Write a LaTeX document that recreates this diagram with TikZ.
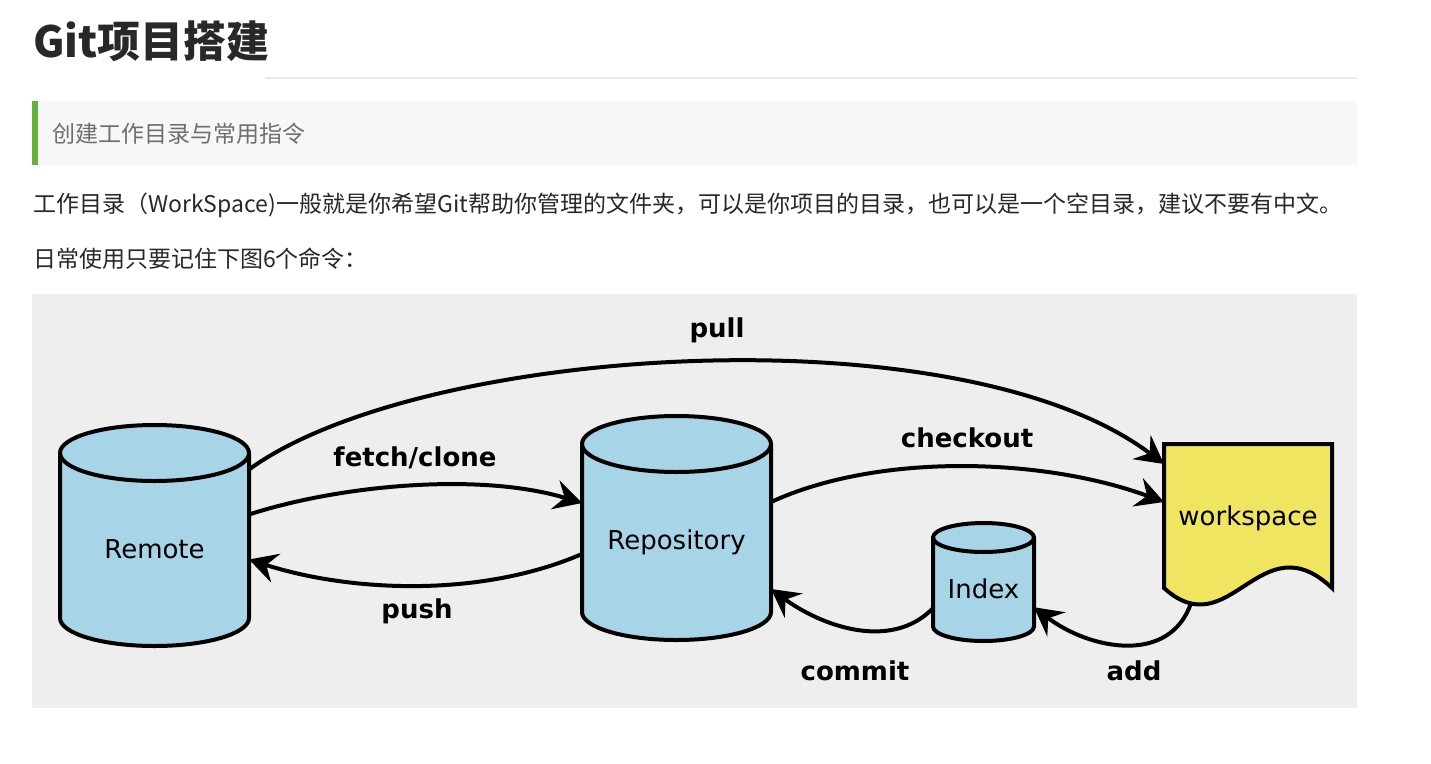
\documentclass[tikz,border=0pt]{standalone}
\usepackage{fontspec}
\usetikzlibrary{arrows.meta,backgrounds}
\newfontfamily\cjk{Noto Sans CJK SC}
\newfontfamily\dejavu{DejaVu Sans}
\definecolor{drumblue}{RGB}{168,212,232}
\definecolor{wsyellow}{RGB}{240,229,96}
\definecolor{panelgray}{RGB}{238,238,238}
\definecolor{quotebg}{RGB}{247,247,247}
\definecolor{quotebar}{RGB}{98,178,60}
\definecolor{inkgray}{RGB}{40,40,40}
\definecolor{quotegray}{RGB}{110,110,110}
\definecolor{rulegray}{RGB}{234,234,234}

% drum outline around a named node: node, x radius, y radius
\newcommand\drawdrum[3]{%
  \path[drumline] (#1.north west) -- ([yshift=#3]#1.south west)
    arc[start angle=180, end angle=360, x radius=#2, y radius=#3]
    -- (#1.north east)
    arc[start angle=0, end angle=180, x radius=#2, y radius=#3] -- cycle;
  \draw[line width=4pt] (#1.north west)
    arc[start angle=180, end angle=360, x radius=#2, y radius=#3];
}

\begin{document}
\begin{tikzpicture}[x=1pt, y=-1pt,
    drum/.style={inner sep=0pt, outer sep=0pt, font=\dejavu\fontsize{26}{30}\selectfont},
    drumline/.style={draw=black, fill=drumblue, line width=4pt, line join=round},
    cmd/.style={font=\dejavu\bfseries\fontsize{26}{30}\selectfont, inner sep=0pt},
    conn/.style={line width=4pt, -{Stealth[length=28pt, width=30pt, inset=10pt]}},
    page/.style={font=\cjk\fontsize{23}{28}\selectfont, text=inkgray, anchor=west, inner sep=0pt}]
  \useasboundingbox (0,0) rectangle (1431,763);

  % page background
  \begin{scope}[on background layer]
    \fill[white] (0,0) rectangle (1431,763);
    \draw[rulegray, line width=1.5pt] (265,78) -- (1357,78);
    \fill[quotebg] (32,101) rectangle (1357,165);
    \fill[quotebar] (32,101) rectangle (38,165);
    \fill[panelgray] (32,294) rectangle (1357,708);
  \end{scope}

  % page text
  \node[page, font=\cjk\bfseries\fontsize{43}{48}\selectfont] (title) at (33,41) {Git项目搭建};
  \node[page, text=quotegray] (quote) at (52,134) {创建工作目录与常用指令};
  \node[page] (intro) at (33,205) {工作目录（WorkSpace)一般就是你希望Git帮助你管理的文件夹，可以是你项目的目录，也可以是一个空目录，建议不要有中文。};
  \node[page] (hint) at (33,259) {日常使用只要记住下图6个命令：};

  % stores
  \node[drum, minimum width=189pt, minimum height=193pt] (remote) at (154.5,549.5) {Remote};
  \node[drum, minimum width=189pt, minimum height=196pt] (repo) at (676.5,542) {Repository};
  \node[drum, minimum width=101pt, minimum height=103.5pt] (index) at (983.5,589.25) {Index};
  \node[drum, minimum width=168pt, minimum height=144pt, text depth=-4pt] (ws) at (1248,516) {workspace};

  \begin{scope}[on background layer]
    \drawdrum{remote}{94.5pt}{28pt}
    \drawdrum{repo}{94.5pt}{28pt}
    \drawdrum{index}{50.5pt}{14.5pt}
    \filldraw[fill=wsyellow, draw=black, line width=4pt]
      (ws.south west) -- (ws.north west) -- (ws.north east) -- (ws.south east)
      .. controls ([shift={(-72,-68)}]ws.south east) and ([shift={(66,60)}]ws.south west) .. (ws.south west) -- cycle;
  \end{scope}

  % commands
  \draw[conn] ([yshift=80pt]remote.east) .. controls (420,345) and (960,310) .. ([yshift=-20pt]ws.north west);
  \draw[conn] ([yshift=35pt]remote.east) .. controls (340,485) and (480,472) .. ([yshift=39pt]repo.west);
  \draw[conn] ([yshift=-12pt]repo.west) .. controls (480,598) and (350,592) .. ([yshift=-10pt]remote.east);
  \draw[conn] ([yshift=40pt]repo.east) .. controls (880,452) and (1045,458) .. ([yshift=14pt]ws.west);
  \draw[conn] ([yshift=-19pt]index.west) .. controls (890,652) and (820,625) .. ([yshift=-47pt]repo.east);
  \draw[conn] ([xshift=27pt,yshift=-15pt]ws.south west) .. controls (1170,665) and (1090,650) .. ([yshift=-18pt]index.east);

  \node[cmd] (pulllbl) at (717,330) {pull};
  \node[cmd] (fetchlbl) at (415,458) {fetch/clone};
  \node[cmd] (pushlbl) at (417,611) {push};
  \node[cmd] (checkoutlbl) at (967,438) {checkout};
  \node[cmd] (commitlbl) at (855,671) {commit};
  \node[cmd] (addlbl) at (1134,671) {add};
\end{tikzpicture}
\end{document}
